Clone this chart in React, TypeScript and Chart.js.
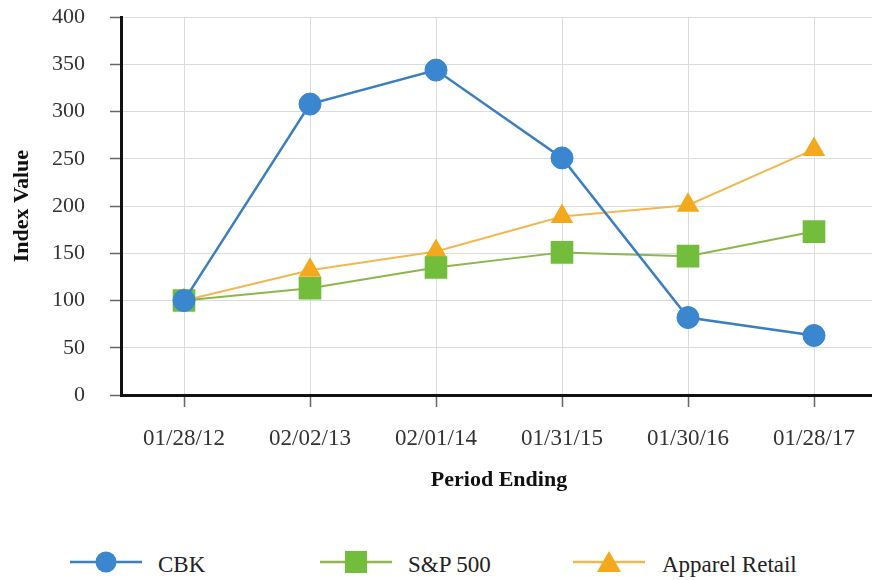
import React, { useEffect, useRef } from "react";
import { Chart, registerables } from "chart.js";

Chart.register(...registerables);

const categories = ["01/28/12", "02/02/13", "02/01/14", "01/31/15", "01/30/16", "01/28/17"];
const cbkValues = [100, 308, 344, 251, 82, 63];
const spValues = [100, 113, 135, 151, 147, 173];
const apparelValues = [100, 132, 152, 189, 201, 260];
const yTicks = [0, 50, 100, 150, 200, 250, 300, 350, 400];
const seriesNames = ["CBK", "S&P 500", "Apparel Retail"];

const FONT = "'Liberation Serif', 'Times New Roman', serif";
const BLUE = "#3a86cf";
const BLUE_LINE = "#3a7fc0";
const GREEN = "#72be3c";
const GREEN_LINE = "#8db64c";
const ORANGE = "#f4a81d";
const ORANGE_LINE = "#f2b850";

const CANVAS_SHIFT = 21;

function LegendIcon({ kind, color, line }: { kind: string; color: string; line: string }) {
  return (
    <svg width="72" height="24" style={{ display: "block" }}>
      <line x1="0" y1="12" x2="72" y2="12" stroke={line} strokeWidth="2.5" />
      {kind === "circle" && <circle cx="36" cy="12" r="10.5" fill={color} />}
      {kind === "rect" && <rect x="25" y="1" width="22" height="22" fill={color} />}
      {kind === "triangle" && <polygon points="36,1 48,22 24,22" fill={color} />}
    </svg>
  );
}

export default function App() {
  const ref = useRef<HTMLCanvasElement | null>(null);

  useEffect(() => {
    if (!ref.current) return;
    const chart = new Chart(ref.current, {
      type: "line",
      data: {
        labels: categories,
        datasets: [
          {
            label: seriesNames[0],
            data: cbkValues,
            borderColor: BLUE_LINE,
            backgroundColor: BLUE,
            borderWidth: 2.5,
            pointStyle: "circle",
            pointRadius: 11,
            pointBackgroundColor: BLUE,
            pointBorderColor: BLUE,
            pointBorderWidth: 1,
            tension: 0,
            order: 1,
          },
          {
            label: seriesNames[1],
            data: spValues,
            borderColor: GREEN_LINE,
            backgroundColor: GREEN,
            borderWidth: 2,
            pointStyle: "rect",
            pointRadius: 16,
            pointBackgroundColor: GREEN,
            pointBorderColor: GREEN,
            pointBorderWidth: 0,
            tension: 0,
            order: 2,
          },
          {
            label: seriesNames[2],
            data: apparelValues,
            borderColor: ORANGE_LINE,
            backgroundColor: ORANGE,
            borderWidth: 2,
            pointStyle: "triangle",
            pointRadius: 13,
            pointBackgroundColor: ORANGE,
            pointBorderColor: ORANGE,
            pointBorderWidth: 0,
            tension: 0,
            order: 3,
          },
        ],
      },
      options: {
        responsive: false,
        animation: false,
        layout: { autoPadding: false, padding: { top: 0, right: 23, left: 0, bottom: 0 } },
        plugins: {
          legend: { display: false },
          tooltip: { enabled: false },
        },
        scales: {
          x: {
            type: "category",
            offset: true,
            grid: {
              offset: false,
              color: "#dcdcdc",
              lineWidth: 1,
              tickColor: "#666",
              tickLength: 12,
              tickWidth: 1.5,
            },
            border: { display: true, color: "#111", width: 3 },
            ticks: {
              color: "#333",
              padding: 18,
              font: { family: FONT, size: 23 },
              maxRotation: 0,
            },
            title: {
              display: true,
              text: "Period Ending",
              color: "#111",
              font: { family: FONT, size: 22, weight: "bold" },
              padding: { top: 0, bottom: 16 },
            },
            afterFit: (scale: any) => {
              scale.height = 115;
            },
          },
          y: {
            min: 0,
            max: 400,
            afterBuildTicks: (scale: any) => {
              scale.ticks = yTicks.map((v) => ({ value: v }));
            },
            grid: {
              color: "#dcdcdc",
              lineWidth: 1,
              tickColor: "#666",
              tickLength: 11,
              tickWidth: 1.5,
            },
            border: { display: true, color: "#111", width: 3 },
            ticks: {
              color: "#333",
              padding: 25,
              font: { family: FONT, size: 22 },
            },
            title: {
              display: true,
              text: "Index Value",
              color: "#111",
              font: { family: FONT, size: 22, weight: "bold" },
              padding: { top: 9, bottom: 0 },
            },
            afterFit: (scale: any) => {
              scale.width = 121;
            },
          },
        },
      },
    });
    return () => chart.destroy();
  }, []);

  const legendItems = [
    { name: seriesNames[0], kind: "circle", color: BLUE, line: BLUE_LINE, iconX: 70, textX: 158 },
    { name: seriesNames[1], kind: "rect", color: GREEN, line: GREEN_LINE, iconX: 320, textX: 408 },
    { name: seriesNames[2], kind: "triangle", color: ORANGE, line: ORANGE_LINE, iconX: 573, textX: 662 },
  ];

  return (
    <div
      style={{
        position: "absolute",
        left: 0,
        top: 0,
        width: 872,
        height: 580,
        overflow: "hidden",
        background: "#fff",
      }}
    >
      <canvas
        ref={ref}
        width={900}
        height={510 + CANVAS_SHIFT}
        style={{ position: "absolute", left: 0, top: -CANVAS_SHIFT }}
      />
      {legendItems.map((it) => (
        <React.Fragment key={it.name}>
          <div style={{ position: "absolute", left: it.iconX, top: 550 }}>
            <LegendIcon kind={it.kind} color={it.color} line={it.line} />
          </div>
          <div
            style={{
              position: "absolute",
              left: it.textX,
              top: 552,
              fontFamily: FONT,
              fontSize: 23,
              color: "#222",
              lineHeight: "26px",
              whiteSpace: "nowrap",
            }}
          >
            {it.name}
          </div>
        </React.Fragment>
      ))}
    </div>
  );
}
